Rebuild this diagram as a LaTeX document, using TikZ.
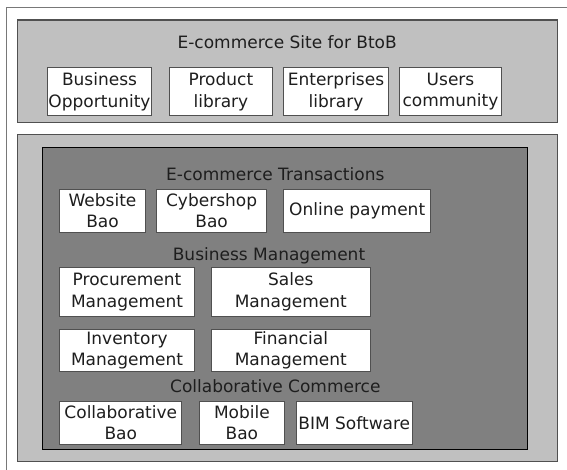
\documentclass[tikz,border=0pt]{standalone}
\usepackage{fontspec}
\setmainfont{DejaVu Sans}
\usepackage{xcolor}
\definecolor{panelgray}{RGB}{192,192,192}
\definecolor{coregray}{RGB}{128,128,128}
\definecolor{edgegray}{RGB}{80,80,80}
\definecolor{framegray}{RGB}{120,120,120}
\definecolor{textgray}{RGB}{30,30,30}

\begin{document}
\begin{tikzpicture}[x=1pt, y=-1pt, every node/.style={font=\fontsize{17}{21.5}\selectfont, text=textgray},
	box/.style={draw=edgegray, fill=white, line width=1pt, inner sep=0pt, align=center},
	heading/.style={anchor=base, inner sep=0pt}]
	% page
	\clip (0,0) rectangle (567,470);
	\fill[white] (0,0) rectangle (567,470);
	\draw[color=framegray, line width=1.5pt] (6.5,7.5) rectangle (600,500);
	% site panel
	\filldraw[color=panelgray, line width=1.5pt, draw=edgegray] (17.5,20) rectangle (557.7,122.7);
	\node[heading] (site) at (287.2,48.3) {E-commerce Site for BtoB};
	\node[box, minimum width=104.7pt, minimum height=48pt] (opportunity) at (99.5,91.7) {Business\\Opportunity};
	\node[box, minimum width=103.6pt, minimum height=48pt] (product) at (220.9,91.7) {Product\\library};
	\node[box, minimum width=104.7pt, minimum height=48pt] (enterprises) at (336,91.7) {Enterprises\\library};
	\node[box, minimum width=102.7pt, minimum height=48pt] (users) at (450.5,91.7) {Users\\community};
	% platform panel
	\filldraw[color=panelgray, line width=1.5pt, draw=edgegray] (17.5,134.7) rectangle (557.7,461.7);
	\filldraw[color=coregray, line width=1.5pt, draw=black] (42.5,147.3) rectangle (527.5,449.3);
	% transactions
	\node[heading] (transactions) at (275.3,181) {E-commerce Transactions};
	\node[box, minimum width=85.6pt, minimum height=43pt] (website) at (102.5,210.8) {Website\\Bao};
	\node[box, minimum width=110pt, minimum height=43pt] (cybershop) at (211.6,210.8) {Cybershop\\Bao};
	\node[box, minimum width=146.6pt, minimum height=43pt] (payment) at (357.2,210.8) {Online payment};
	% management
	\node[heading] (management) at (269,260) {Business Management};
	\node[box, minimum width=134.7pt, minimum height=49.4pt] (procurement) at (127,292) {Procurement\\Management};
	\node[box, minimum width=158.8pt, minimum height=49.4pt] (sales) at (290.8,292) {Sales\\Management};
	\node[box, minimum width=134.7pt, minimum height=42.7pt] (inventory) at (127,350.4) {Inventory\\Management};
	\node[box, minimum width=158.8pt, minimum height=42.7pt] (financial) at (290.8,350.4) {Financial\\Management};
	% collaboration
	\node[heading] (collaborative) at (275.3,392.7) {Collaborative Commerce};
	\node[box, minimum width=122pt, minimum height=42.3pt] (collab) at (120.8,422.9) {Collaborative\\Bao};
	\node[box, minimum width=85pt, minimum height=42.3pt] (mobile) at (241.9,422.9) {Mobile\\Bao};
	\node[box, minimum width=116.2pt, minimum height=42.3pt] (bim) at (354.3,422.9) {BIM Software};
\end{tikzpicture}
\end{document}
